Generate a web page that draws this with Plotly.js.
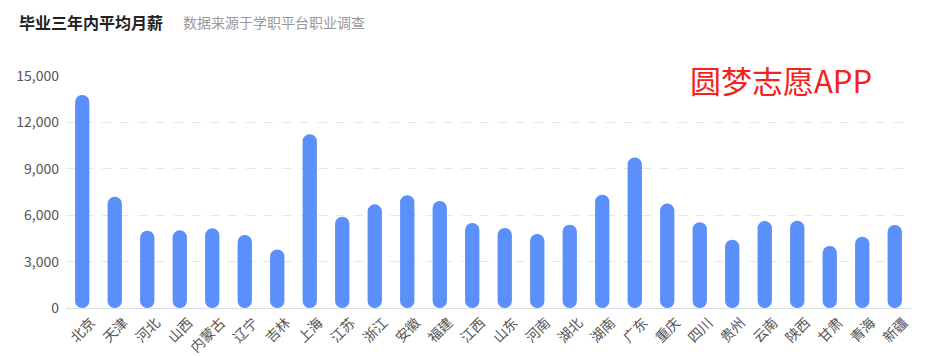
<!DOCTYPE html>
<html>
<head>
<meta charset="utf-8">
<script src="https://cdn.plot.ly/plotly-3.0.1.min.js"></script>
<style>html,body{margin:0;padding:0;background:#fff;}#chart{width:931px;height:356px;}</style>
</head>
<body>
<div id="chart"></div>
<script>
const provinces = ["北京","天津","河北","山西","内蒙古","辽宁","吉林","上海","江苏","浙江","安徽","福建","江西","山东","河南","湖北","湖南","广东","重庆","四川","贵州","云南","陕西","甘肃","青海","新疆"];
const salary = [13770,7200,5000,5020,5150,4720,3790,11230,5900,6700,7290,6920,5500,5170,4780,5390,7330,9730,6750,5540,4420,5620,5640,4010,4610,5370];
const yTicks = [0,3000,6000,9000,12000,15000];
const yMax = 15000;
const titleText = "毕业三年内平均月薪";
const subtitleText = "数据来源于学职平台职业调查";
const watermarkText = "圆梦志愿APP";

const barColor = "#5B8FF9";
const font = "'Noto Sans CJK SC', 'Microsoft YaHei', sans-serif";

const W = 931, H = 356, ml = 66, mr = 20, mt = 76, mb = 48;
const pw = W - ml - mr, ph = H - mt - mb;
const px = p => (p - ml) / pw;
const py = p => (H - mb - p) / ph;

const bars = {
  type: "bar", x: provinces,
  base: salary.map(() => 0),
  y: salary,
  width: 0.44,
  marker: {color: barColor, cornerradius: "50%", line: {width: 0}},
  hovertemplate: "%{x}: %{y:,}<extra></extra>",
  showlegend: false
};

const layout = {
  width: W, height: H,
  margin: {l: ml, r: mr, t: mt, b: mb, pad: 0},
  paper_bgcolor: "#fff", plot_bgcolor: "#fff",
  font: {family: font, color: "#666", size: 13},
  xaxis: {
    type: "category",
    tickangle: -45,
    tickfont: {size: 14, color: "#555", family: font},
    ticklabelshift: 9,
    ticklabelstandoff: 0,
    showgrid: false,
    showline: true, linecolor: "#dcdfe6", linewidth: 1,
    ticks: "", ticklen: 0,
    fixedrange: true
  },
  yaxis: {
    range: [0, yMax],
    tickvals: yTicks,
    tickformat: ",d",
    tickfont: {size: 14, color: "#555", family: font},
    showgrid: true, gridcolor: "#e3e6ec", griddash: "dash", gridwidth: 1,
    zeroline: false, showline: false,
    ticks: "", ticklabelstandoff: 6,
    fixedrange: true
  },
  annotations: [
    {xref: "paper", yref: "paper", x: px(17), y: py(22), xanchor: "left", yanchor: "middle",
     text: "<b>" + titleText + "</b>", showarrow: false,
     font: {size: 16, color: "#222", family: font}},
    {xref: "paper", yref: "paper", x: px(181), y: py(22), xanchor: "left", yanchor: "middle",
     text: subtitleText, showarrow: false,
     font: {size: 14, color: "#999", family: font}},
    {xref: "paper", yref: "paper", x: px(688), y: py(79), xanchor: "left", yanchor: "middle",
     text: watermarkText, showarrow: false,
     font: {size: 31, color: "#f5221b", family: font}}
  ]
};

Plotly.newPlot("chart", [bars], layout, {displayModeBar: false});
</script>
</body>
</html>
